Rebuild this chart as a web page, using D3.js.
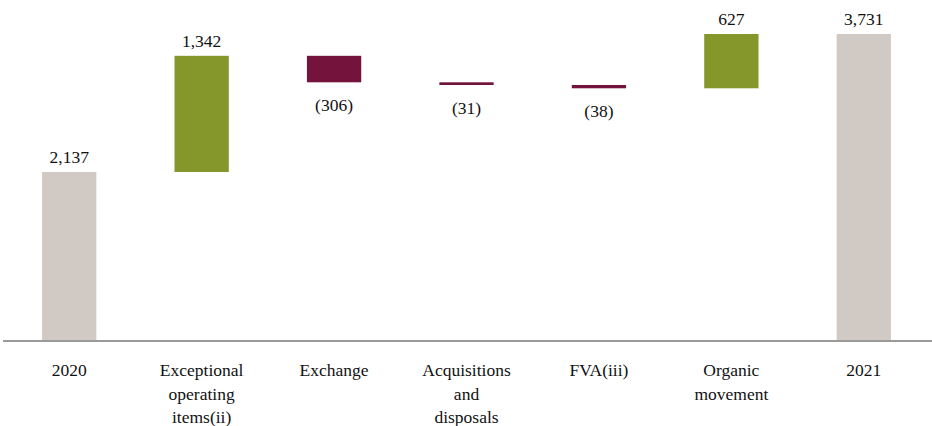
<!DOCTYPE html>
<html>
<head>
<meta charset="utf-8">
<script src="https://cdn.jsdelivr.net/npm/d3@7"></script>
<style>
  body { margin: 0; background: #fff; }
</style>
</head>
<body>
<svg width="932" height="426"></svg>
<script>
// waterfall data
var categories = ["2020", "Exceptional operating items(ii)", "Exchange", "Acquisitions and disposals", "FVA(iii)", "Organic movement", "2021"];
var labelLines = [["2020"], ["Exceptional", "operating", "items(ii)"], ["Exchange"], ["Acquisitions", "and", "disposals"], ["FVA(iii)"], ["Organic", "movement"], ["2021"]];
var values = [2137, 1342, -306, -31, -38, 627, 3731];
var isTotal = [true, false, false, false, false, false, true];

var svg = d3.select("svg"),
    width = +svg.attr("width"),
    height = +svg.attr("height");

var axisY = 341;
var serif = "Liberation Serif";

// build running totals
var rows = [];
var run = 0;
categories.forEach(function(c, i) {
  var start, end;
  if (isTotal[i]) { start = null; end = values[i]; run = values[i]; }
  else { start = run; end = run + values[i]; run = end; }
  rows.push({cat: c, lines: labelLines[i], v: values[i], start: start, end: end, total: isTotal[i]});
});

var x = d3.scaleBand()
    .domain(categories)
    .range([3, 930])
    .paddingInner(0.59)
    .paddingOuter(0.295);

var y = d3.scaleLinear()
    .domain([185, 3731])
    .range([axisY, 34]);

function barColor(d) {
  if (d.total) return "#d0c9c4";
  return d.v >= 0 ? "#85972b" : "#74133c";
}

var g = svg.append("g");

g.selectAll("rect.bar")
  .data(rows)
  .enter().append("rect")
    .attr("class", "bar")
    .attr("x", function(d) { return x(d.cat); })
    .attr("width", x.bandwidth())
    .attr("y", function(d) { return d.total ? y(d.end) : y(Math.max(d.start, d.end)); })
    .attr("height", function(d) {
      if (d.total) return axisY - y(d.end);
      return Math.abs(y(d.start) - y(d.end));
    })
    .attr("fill", barColor);

// axis line
svg.append("line")
    .attr("x1", 3).attr("x2", 932)
    .attr("y1", axisY).attr("y2", axisY)
    .style("stroke", "#9a9a9a")
    .style("stroke-width", 2);

var fmt = d3.format(",");

// value labels
g.selectAll("text.val")
  .data(rows)
  .enter().append("text")
    .attr("class", "val")
    .attr("text-anchor", "middle")
    .attr("x", function(d) { return x(d.cat) + x.bandwidth() / 2; })
    .attr("y", function(d) {
      if (d.total || d.v >= 0) return y(d.end) - 9;
      return y(d.end) + 29;
    })
    .attr("font-family", serif)
    .attr("font-size", 17.5)
    .attr("fill", "#111")
    .text(function(d) { return d.v < 0 ? "(" + fmt(-d.v) + ")" : fmt(d.v); });

// category labels
var cl = g.selectAll("text.cat")
  .data(rows)
  .enter().append("text")
    .attr("class", "cat")
    .attr("text-anchor", "middle")
    .attr("x", function(d) { return x(d.cat) + x.bandwidth() / 2; })
    .attr("y", axisY + 35)
    .attr("font-family", serif)
    .attr("font-size", 17.5)
    .attr("fill", "#111");

cl.selectAll("tspan")
  .data(function(d) { return d.lines.map(function(l) { return {t: l, cx: x(d.cat) + x.bandwidth() / 2}; }); })
  .enter().append("tspan")
    .attr("x", function(d) { return d.cx; })
    .attr("dy", function(d, i) { return i === 0 ? 0 : 23.5; })
    .text(function(d) { return d.t; });
</script>
</body>
</html>
